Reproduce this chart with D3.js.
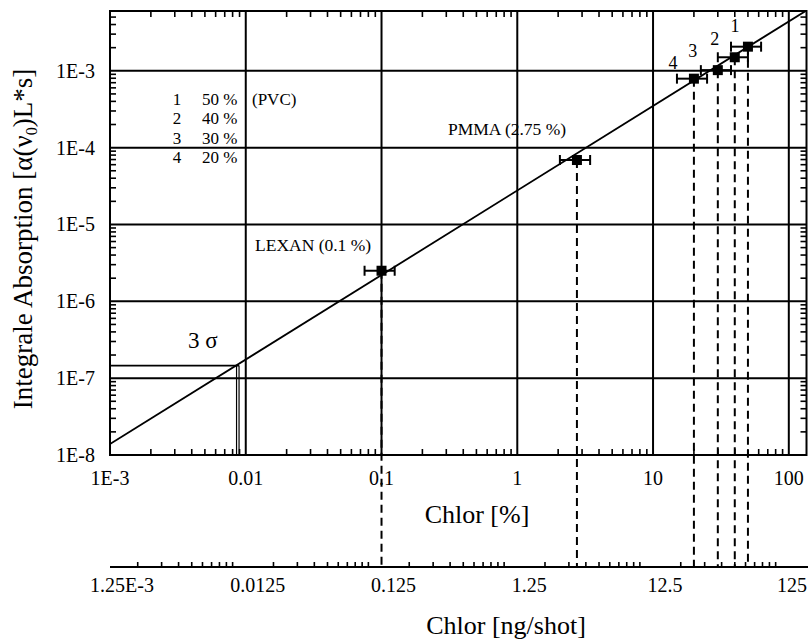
<!DOCTYPE html>
<html><head><meta charset="utf-8">
<script src="https://cdn.jsdelivr.net/npm/d3@7"></script>
<style>
body{margin:0;background:#fff}
svg{display:block}
text{font-family:"Liberation Serif","Times New Roman",serif;fill:#000}
</style>
</head><body><svg id="c" width="808" height="642"></svg>
<script>
// ---------- data ----------
const samples = ["LEXAN", "PMMA", "PVC 20 %", "PVC 30 %", "PVC 40 %", "PVC 50 %"];
const chlorPct = [0.1, 2.75, 20, 30, 40, 50];
const absorption = [2.5e-6, 6.9e-5, 7.9e-4, 1.02e-3, 1.5e-3, 2.06e-3];
const xErrLow = [0.075, 2.06, 15, 22.5, 30, 37.5];
const xErrHigh = [0.125, 3.44, 25, 37.5, 50, 62.5];
const pointLabels = ["", "", "4", "3", "2", "1"];
const fitX = [1e-3, 135];
const fitY = [1.39e-8, 6.1e-3];
const sigmaX = 8.7e-3;
const sigmaY = 1.46e-7;
const xTicksPct = [1e-3, 0.01, 0.1, 1, 10, 100];
const xTickLabelsPct = ["1E-3", "0.01", "0.1", "1", "10", "100"];
const xTicksNg = [1.25e-3, 0.0125, 0.125, 1.25, 12.5, 125];
const xTickLabelsNg = ["1.25E-3", "0.0125", "0.125", "1.25", "12.5", "125"];
const yTicks = [1e-8, 1e-7, 1e-6, 1e-5, 1e-4, 1e-3];
const yTickLabels = ["1E-8", "1E-7", "1E-6", "1E-5", "1E-4", "1E-3"];
const legendNums = ["1", "2", "3", "4"];
const legendPct = ["50 %", "40 %", "30 %", "20 %"];

// ---------- layout ----------
const L = 110, R = 806.5, T = 11, B = 455, AX2 = 567;
const svg = d3.select("#c");
const x = d3.scaleLog().domain([1e-3, 135]).range([L, R]);
const xNg = d3.scaleLog().domain([1e-3 * 1.25, 135 * 1.25]).range([L, R]);
const y = d3.scaleLog().domain([1e-8, 6e-3]).range([B, T]);
const isMajor = v => Math.abs(Math.log10(v) - Math.round(Math.log10(v))) < 1e-9;

svg.append("clipPath").attr("id", "plot").append("rect")
  .attr("x", L).attr("y", T).attr("width", R - L).attr("height", B - T);

// gridlines
const g = svg.append("g").attr("stroke", "#000").attr("stroke-width", 2);
g.selectAll("line.vx").data(xTicksPct.slice(1)).join("line")
  .attr("x1", d => x(d)).attr("x2", d => x(d)).attr("y1", T).attr("y2", B);
g.selectAll("line.hy").data(yTicks.slice(1)).join("line").attr("class", "hy")
  .attr("x1", L).attr("x2", R).attr("y1", d => y(d)).attr("y2", d => y(d));

// frame
svg.append("rect").attr("x", L).attr("y", T).attr("width", R - L).attr("height", B - T)
  .attr("fill", "none").attr("stroke", "#000").attr("stroke-width", 2);

// minor ticks
const tk = svg.append("g").attr("stroke", "#000").attr("stroke-width", 1.6);
const xMinor = x.ticks().filter(v => !isMajor(v));
const yMinor = y.ticks().filter(v => !isMajor(v));
tk.selectAll("line.xb").data(xMinor).join("line").attr("class", "xb")
  .attr("x1", d => x(d)).attr("x2", d => x(d)).attr("y1", B).attr("y2", B - 6);
tk.selectAll("line.xt").data(xMinor).join("line").attr("class", "xt")
  .attr("x1", d => x(d)).attr("x2", d => x(d)).attr("y1", T).attr("y2", T + 6);
tk.selectAll("line.yl").data(yMinor).join("line").attr("class", "yl")
  .attr("x1", L).attr("x2", L + 6).attr("y1", d => y(d)).attr("y2", d => y(d));
tk.selectAll("line.yr").data(yMinor).join("line").attr("class", "yr")
  .attr("x1", R).attr("x2", R - 6).attr("y1", d => y(d)).attr("y2", d => y(d));

// second axis (ng/shot)
svg.append("line").attr("x1", L).attr("x2", 808).attr("y1", AX2).attr("y2", AX2)
  .attr("stroke", "#000").attr("stroke-width", 2);
tk.selectAll("line.ng").data(xNg.ticks()).join("line").attr("class", "ng")
  .attr("x1", d => xNg(d)).attr("x2", d => xNg(d))
  .attr("y1", AX2).attr("y2", d => AX2 - (isMajor(d / 1.25) ? 9 : 5));

// fit line
svg.append("path").attr("clip-path", "url(#plot)")
  .attr("d", d3.line()(fitX.map((v, i) => [x(v), y(fitY[i])])))
  .attr("fill", "none").attr("stroke", "#000").attr("stroke-width", 1.8);

// 3 sigma
const sg = svg.append("g").attr("stroke", "#000").attr("fill", "none");
sg.append("line").attr("x1", L).attr("x2", x(sigmaX) + 1.5).attr("y1", y(sigmaY)).attr("y2", y(sigmaY)).attr("stroke-width", 1.8);
sg.append("line").attr("x1", x(sigmaX) - 1).attr("x2", x(sigmaX) - 1).attr("y1", y(sigmaY)).attr("y2", B).attr("stroke-width", 1.2);
sg.append("line").attr("x1", x(sigmaX) + 1.5).attr("x2", x(sigmaX) + 1.5).attr("y1", y(sigmaY)).attr("y2", B).attr("stroke-width", 1.2);

// dashed drop lines
const idx = d3.range(chlorPct.length);
svg.append("g").selectAll("line").data(idx).join("line")
  .attr("x1", i => x(chlorPct[i])).attr("x2", i => x(chlorPct[i]))
  .attr("y1", i => y(absorption[i])).attr("y2", AX2)
  .attr("stroke", "#000").attr("stroke-width", 2).attr("stroke-dasharray", "8,5");

// error bars
const eb = svg.append("g").attr("stroke", "#000").attr("stroke-width", 2);
eb.selectAll("line.h").data(idx).join("line").attr("class", "h")
  .attr("x1", i => x(xErrLow[i])).attr("x2", i => x(xErrHigh[i]))
  .attr("y1", i => y(absorption[i])).attr("y2", i => y(absorption[i]));
eb.selectAll("line.cl").data(idx).join("line").attr("class", "cl")
  .attr("x1", i => x(xErrLow[i])).attr("x2", i => x(xErrLow[i]))
  .attr("y1", i => y(absorption[i]) - 5).attr("y2", i => y(absorption[i]) + 5);
eb.selectAll("line.ch").data(idx).join("line").attr("class", "ch")
  .attr("x1", i => x(xErrHigh[i])).attr("x2", i => x(xErrHigh[i]))
  .attr("y1", i => y(absorption[i]) - 5).attr("y2", i => y(absorption[i]) + 5);

// markers
svg.append("g").selectAll("rect").data(idx).join("rect")
  .attr("x", i => x(chlorPct[i]) - 5).attr("y", i => y(absorption[i]) - 5)
  .attr("width", 10).attr("height", 10).attr("fill", "#000");

// point number labels
const numPos = [null, null, [-21, -10], [-25, -13], [-20, -12], [-13, -15]];
svg.append("g").selectAll("text").data(idx.filter(i => pointLabels[i])).join("text")
  .attr("x", i => x(chlorPct[i]) + numPos[i][0]).attr("y", i => y(absorption[i]) + numPos[i][1])
  .attr("text-anchor", "middle").attr("font-size", 18).text(i => pointLabels[i]);

// tick labels
svg.append("g").selectAll("text").data(yTicks).join("text")
  .attr("x", 95).attr("y", d => y(d) + 7).attr("text-anchor", "end")
  .attr("font-size", 20).text((d, i) => yTickLabels[i]);
svg.append("g").selectAll("text").data(xTicksPct).join("text")
  .attr("x", d => x(d)).attr("y", 485).attr("text-anchor", "middle")
  .attr("font-size", 20).text((d, i) => xTickLabelsPct[i]);
svg.append("g").selectAll("text").data(xTicksNg).join("text")
  .attr("y", 592).attr("text-anchor", "middle")
  .attr("font-size", 20).text((d, i) => xTickLabelsNg[i])
  .attr("x", function(d) {
    const w = this.getComputedTextLength();
    return Math.min(xNg(d) + 12, 807 - w / 2);
  });

// axis titles
svg.append("text").attr("x", 477).attr("y", 523).attr("text-anchor", "middle")
  .attr("font-size", 26).text("Chlor [%]");
svg.append("text").attr("x", 506).attr("y", 634).attr("text-anchor", "middle")
  .attr("font-size", 26).text("Chlor [ng/shot]");
const yt = svg.append("text").attr("transform", "translate(32,239) rotate(-90)")
  .attr("text-anchor", "middle").attr("font-size", 27);
yt.append("tspan").text("Integrale Absorption [α(ν");
yt.append("tspan").attr("font-size", 16).attr("dy", 5).text("0");
yt.append("tspan").attr("dy", -5).text(")L*s]");

// annotations
svg.append("text").attr("x", 255).attr("y", 251).attr("font-size", 17.5).text("LEXAN (0.1 %)");
svg.append("text").attr("x", 448).attr("y", 135).attr("font-size", 17.5).text("PMMA (2.75 %)");
svg.append("text").attr("x", 188).attr("y", 348).attr("font-size", 23).text("3 σ");

// legend
const lg = svg.append("g").attr("font-size", 17);
lg.selectAll("text.n").data(legendNums).join("text").attr("class", "n")
  .attr("x", 177).attr("y", (d, i) => 104.5 + i * 19.5).attr("text-anchor", "middle").text(d => d);
lg.selectAll("text.p").data(legendPct).join("text").attr("class", "p")
  .attr("x", 202).attr("y", (d, i) => 104.5 + i * 19.5).text(d => d);
lg.append("text").attr("x", 252).attr("y", 104.5).text("(PVC)");
</script>
</body></html>
